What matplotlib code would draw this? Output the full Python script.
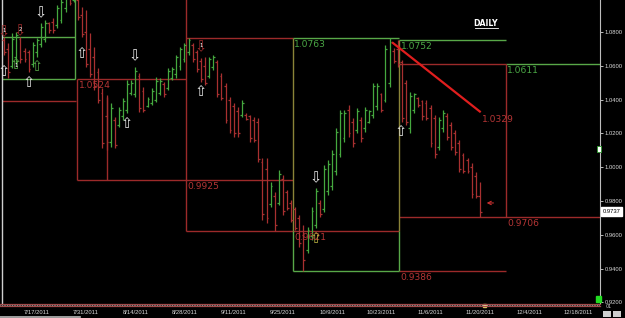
import numpy as np
import pandas as pd
import matplotlib
matplotlib.use('Agg')
import matplotlib.pyplot as plt
from matplotlib.lines import Line2D
from matplotlib.patches import Rectangle

# daily bars (Sun-Fri sessions), last bar 11/20/2011
opens = [1.0750, 1.0700, 1.0600, 1.0650, 1.0760, 1.0690, 1.0680, 1.0610, 1.0680, 1.0730,
         1.0760, 1.0850, 1.0860, 1.0840, 1.0870, 1.0940, 1.1030, 1.0990, 1.0990, 1.0900,
         1.0800, 1.0700, 1.0650, 1.0560, 1.0440, 1.0300, 1.0150, 1.0280, 1.0250, 1.0300,
         1.0340, 1.0440, 1.0430, 1.0540, 1.0450, 1.0360, 1.0380, 1.0400, 1.0440, 1.0490,
         1.0470, 1.0530, 1.0550, 1.0600, 1.0640, 1.0680, 1.0720, 1.0680, 1.0630, 1.0600,
         1.0540, 1.0590, 1.0620, 1.0540, 1.0480, 1.0400, 1.0360, 1.0330, 1.0310, 1.0310,
         1.0300, 1.0280, 1.0270, 1.0030, 0.9990, 0.9780, 0.9830, 0.9790, 0.9930, 0.9850,
         0.9790, 0.9750, 0.9700, 0.9600, 0.9510, 0.9590, 0.9660, 0.9790, 0.9750, 0.9860,
         0.9890, 0.9980, 1.0080, 1.0170, 1.0340, 1.0270, 1.0220, 1.0280, 1.0230, 1.0270,
         1.0310, 1.0360, 1.0430, 1.0400, 1.0500, 1.0690, 1.0700, 1.0620, 1.0500, 1.0230,
         1.0340, 1.0410, 1.0390, 1.0380, 1.0350, 1.0290, 1.0120, 1.0230, 1.0300, 1.0250,
         1.0200, 1.0140, 1.0070, 1.0040, 1.0000, 0.9950, 0.9830]
highs = [1.0770, 1.0735, 1.0794, 1.0800, 1.0770, 1.0705, 1.0693, 1.0740, 1.0764, 1.0853,
         1.0871, 1.0859, 1.0882, 1.0959, 1.1007, 1.1036, 1.1048, 1.1060, 1.1001, 1.0948,
         1.0930, 1.0794, 1.0711, 1.0587, 1.0468, 1.0427, 1.0380, 1.0297, 1.0356, 1.0409,
         1.0516, 1.0516, 1.0593, 1.0557, 1.0474, 1.0415, 1.0468, 1.0533, 1.0527, 1.0504,
         1.0587, 1.0593, 1.0664, 1.0711, 1.0735, 1.0764, 1.0735, 1.0693, 1.0646, 1.0652,
         1.0652, 1.0664, 1.0634, 1.0557, 1.0498, 1.0415, 1.0380, 1.0356, 1.0397, 1.0320,
         1.0309, 1.0297, 1.0291, 1.0054, 1.0054, 0.9912, 0.9853, 0.9983, 0.9954, 0.9865,
         0.9805, 0.9764, 0.9717, 0.9658, 0.9646, 0.9764, 0.9877, 0.9805, 1.0012, 1.0042,
         1.0101, 1.0232, 1.0338, 1.0338, 1.0368, 1.0291, 1.0350, 1.0297, 1.0356, 1.0338,
         1.0498, 1.0498, 1.0439, 1.0723, 1.0763, 1.0705, 1.0752, 1.0634, 1.0516, 1.0445,
         1.0439, 1.0415, 1.0397, 1.0397, 1.0368, 1.0309, 1.0297, 1.0338, 1.0320, 1.0267,
         1.0220, 1.0161, 1.0084, 1.0054, 1.0024, 0.9971, 0.9912]
lows = [1.0664, 1.0527, 1.0587, 1.0616, 1.0616, 1.0622, 1.0563, 1.0593, 1.0652, 1.0711,
        1.0740, 1.0794, 1.0794, 1.0823, 1.0853, 1.0918, 1.0959, 1.0977, 1.0871, 1.0770,
        1.0593, 1.0533, 1.0456, 1.0380, 1.0113, 1.0101, 1.0119, 1.0113, 1.0238, 1.0279,
        1.0320, 1.0427, 1.0415, 1.0326, 1.0326, 1.0356, 1.0368, 1.0385, 1.0427, 1.0415,
        1.0456, 1.0516, 1.0527, 1.0575, 1.0622, 1.0664, 1.0622, 1.0563, 1.0504, 1.0486,
        1.0527, 1.0575, 1.0415, 1.0397, 1.0261, 1.0202, 1.0178, 1.0178, 1.0297, 1.0279,
        1.0149, 1.0149, 1.0030, 0.9687, 0.9669, 0.9764, 0.9625, 0.9776, 0.9717, 0.9746,
        0.9675, 0.9628, 0.9527, 0.9386, 0.9492, 0.9569, 0.9640, 0.9705, 0.9735, 0.9835,
        0.9865, 0.9954, 1.0060, 1.0149, 1.0178, 1.0119, 1.0202, 1.0149, 1.0208, 1.0261,
        1.0291, 1.0338, 1.0326, 1.0385, 1.0474, 1.0616, 1.0593, 1.0267, 1.0249, 1.0202,
        1.0320, 1.0356, 1.0279, 1.0279, 1.0119, 1.0054, 1.0101, 1.0208, 1.0161, 1.0101,
        1.0072, 0.9971, 0.9965, 0.9965, 0.9817, 0.9817, 0.9706]
closes = [1.0680, 1.0560, 1.0760, 1.0780, 1.0640, 1.0640, 1.0580, 1.0720, 1.0750, 1.0830,
          1.0850, 1.0810, 1.0810, 1.0940, 1.0980, 1.1010, 1.0970, 1.1040, 1.0890, 1.0790,
          1.0610, 1.0550, 1.0480, 1.0400, 1.0140, 1.0150, 1.0350, 1.0130, 1.0340, 1.0390,
          1.0490, 1.0500, 1.0570, 1.0350, 1.0340, 1.0405, 1.0450, 1.0510, 1.0510, 1.0430,
          1.0570, 1.0580, 1.0650, 1.0700, 1.0720, 1.0750, 1.0640, 1.0580, 1.0520, 1.0500,
          1.0640, 1.0650, 1.0430, 1.0410, 1.0280, 1.0220, 1.0200, 1.0200, 1.0380, 1.0285,
          1.0170, 1.0160, 1.0050, 0.9720, 0.9700, 0.9890, 0.9660, 0.9960, 0.9740, 0.9760,
          0.9690, 0.9640, 0.9550, 0.9450, 0.9630, 0.9740, 0.9860, 0.9720, 0.9990, 1.0020,
          1.0080, 1.0210, 1.0320, 1.0320, 1.0200, 1.0140, 1.0330, 1.0170, 1.0340, 1.0330,
          1.0480, 1.0480, 1.0340, 1.0700, 1.0740, 1.0630, 1.0610, 1.0290, 1.0270, 1.0420,
          1.0430, 1.0365, 1.0300, 1.0290, 1.0140, 1.0080, 1.0280, 1.0320, 1.0180, 1.0120,
          1.0090, 0.9990, 0.9980, 0.9975, 0.9840, 0.9830, 0.9737]

tick_dates = ['2011-07-17', '2011-07-31', '2011-08-14', '2011-08-28', '2011-09-11', '2011-09-25',
              '2011-10-09', '2011-10-23', '2011-11-06', '2011-11-20', '2011-12-04', '2011-12-18']
price_ticks = [0.92, 0.94, 0.96, 0.98, 1.00, 1.02, 1.04, 1.06, 1.08]

# drawing tools: horizontal levels (price, from bar, to bar, colour key)
h_levels = [(1.0772, -0.5, 17.3, 'g'), (1.0524, -0.5, 17.3, 'g'), (1.0391, -0.5, 17.5, 'r'),
            (1.0524, 17.8, 44.4, 'r'), (0.9925, 17.8, 70.4, 'r'), (1.0763, 44.4, 70.4, 'r'),
            (1.0763, 70.4, 96.3, 'g'), (0.9621, 44.4, 96.3, 'r'), (0.9386, 70.4, 96.3, 'g'),
            (0.9386, 96.3, 122.3, 'r'), (1.0752, 96.3, 122.3, 'g'), (1.0611, 96.3, 122.3, 'r'),
            (1.0611, 122.3, 146, 'g'), (0.9706, 96.3, 146, 'r')]
v_levels = [(17.3, 1.0524, 1.11, 'g'), (17.8, 0.9925, 1.0524, 'r'), (25.1, 0.9925, 1.0415, 'r'),
            (44.4, 0.9621, 1.11, 'r'), (70.4, 0.9621, 1.0763, 'o'), (70.4, 0.9386, 0.9621, 'g'),
            (96.3, 0.9621, 1.0752, 'o'), (96.3, 0.9386, 0.9621, 'g'), (122.3, 0.9706, 1.0611, 'r')]
level_labels = [('1.0524', 17.8, 1.0524, 'r'), ('0.9925', 44.4, 0.9925, 'r'),
                ('1.0763', 70.4, 1.0763, 'g'), ('0.9621', 70.4, 0.9621, 'r'),
                ('1.0752', 96.3, 1.0752, 'g'), ('1.0611', 122.3, 1.0611, 'g'),
                ('0.9706', 122.3, 0.9706, 'r'), ('0.9386', 96.3, 0.9386, 'r')]
trend_x = [94.8, 116.0]
trend_y = [1.0735, 1.0329]

# signal arrows
arrow_x = [0.0, 3.9, 9.0, 0.0, 2.9, 8.0, 6.1, 19.0, 31.9, 30.0, 48.0, 48.0, 76.0, 76.0, 96.8]
arrow_y = [1.0800, 1.0806, 1.0912, 1.0563, 1.0610, 1.0598, 1.0498, 1.0670, 1.0658, 1.0261,
           1.0711, 1.0445, 0.9936, 0.9575, 1.0208]
arrow_dir = ['d', 'd', 'd', 'u', 'u', 'u', 'u', 'u', 'd', 'u', 'd', 'u', 'd', 'u', 'u']
arrow_col = ['r', 'r', 'w', 'w', 'g', 'g', 'w', 'w', 'w', 'w', 'r', 'w', 'w', 'y', 'w']
arrow_num = ['1', '2', '', '', '1', '', '', '', '', '', '1', '', '', '', '']

cols = {'r': '#9c2a2a', 'g': '#58a848', 'o': '#8a8438', 'w': '#e8e8e8', 'y': '#b8b040'}
txtcols = {'r': '#b53535', 'g': '#4aa845'}
bar_green = '#45a83f'
bar_red = '#a83030'
small = ['Liberation Sans', 'DejaVu Sans']

dates = pd.bdate_range(end='2011-11-20', periods=len(closes), freq='C',
                       weekmask='Sun Mon Tue Wed Thu Fri')
calendar = pd.bdate_range(start=dates[0], periods=170, freq='C', weekmask='Sun Mon Tue Wed Thu Fri')
x = np.arange(len(closes))
o = np.array(opens)
c = np.array(closes)
colors = np.where(c >= o, bar_green, bar_red)

fig = plt.figure(figsize=(6.25, 3.18), dpi=100, facecolor='black')
ax = fig.add_axes([2 / 625, 15 / 318, 598 / 625, 303 / 318])
ax.set_facecolor('black')

# level boxes and lines
for lvl, x0, x1, k in h_levels:
    ax.hlines(lvl, x0, x1, color=cols[k], lw=1.0, zorder=1)
for xv, y0, y1, k in v_levels:
    ax.vlines(xv, y0, y1, color=cols[k], lw=1.0, zorder=1)
for txt, xv, lvl, k in level_labels:
    ax.annotate(txt, (xv, lvl), xytext=(1.2, -1.6), textcoords='offset points',
                ha='left', va='top', fontsize=6.6, color=txtcols[k], zorder=4)

# ohlc bars
ax.vlines(x, lows, highs, colors=colors, lw=0.9, zorder=3)
ax.hlines(opens, x - 0.45, x, colors=colors, lw=0.9, zorder=3)
ax.hlines(closes, x, x + 0.45, colors=colors, lw=0.9, zorder=3)

# trendline
ax.plot(trend_x, trend_y, color='#e01e1e', lw=1.6, zorder=5)
ax.annotate('1.0329', (trend_x[1], trend_y[1]), xytext=(1.5, -2.2), textcoords='offset points',
            ha='left', va='top', fontsize=6.6, color=txtcols['r'], zorder=5)
ax.annotate('', xy=(117.0, 0.9788), xytext=(120.0, 0.9788),
            arrowprops=dict(arrowstyle='->', color='#c83030', lw=0.8, mutation_scale=6))

for ax_, ay, d, k, n in zip(arrow_x, arrow_y, arrow_dir, arrow_col, arrow_num):
    ch = '\u21e7' if d == 'u' else '\u21e9'
    ax.text(ax_, ay, ch, color=cols[k], fontsize=10.5, ha='center', va='center', zorder=6,
            family='DejaVu Sans')
    if n:
        ax.text(ax_, ay + (0.0008 if d == 'd' else -0.0008), n, color='white', fontsize=3.8,
                ha='center', va='center', zorder=7)

ax.set_xlim(-0.49, 145.3)
ax.set_ylim(0.9196, 1.0989)

tick_pos = calendar.get_indexer(pd.to_datetime(tick_dates))
ax.set_xticks(tick_pos)
ax.set_xticklabels([f'{d.month}/{d.day}/{d.year}' for d in pd.to_datetime(tick_dates)],
                   family=small, fontsize=4.2, color='#d8d8d8')
ax.tick_params(axis='x', length=0, pad=5)

ax.yaxis.tick_right()
ax.set_yticks(price_ticks)
ax.set_yticklabels([f'{v:.4f}' for v in price_ticks], family=small, fontsize=4.2, color='#d8d8d8')
ax.tick_params(axis='y', length=2, width=0.6, color='#d8d8d8', pad=1.5)

for s in ['top', 'bottom']:
    ax.spines[s].set_visible(False)
ax.spines['left'].set_color('#cfcfcf')
ax.spines['right'].set_color('#bdbdbd')
ax.spines['left'].set_linewidth(1.0)
ax.spines['right'].set_linewidth(0.8)

# last price tag
ax.annotate('0.9737', xy=(1.0, closes[-1]), xycoords=('axes fraction', 'data'),
            xytext=(1.8, 0), textcoords='offset points', ha='left', va='center',
            fontsize=4.2, family=small, color='black', annotation_clip=False,
            bbox=dict(boxstyle='square,pad=0.3', fc='white', ec='white'))

# title
ax.text(0.809, 0.924, 'DAILY', transform=ax.transAxes, color='white', fontsize=5.6,
        fontweight='bold', ha='center', va='center')
ax.plot([0.791, 0.829], [0.906, 0.906], transform=ax.transAxes, color='white', lw=0.6)

# bottom band of the time axis
def fy(px):
    return 1 - px / 318

def fx(px):
    return px / 625

fig.add_artist(Line2D([0, fx(600)], [fy(303.5), fy(303.5)], color='#a04a4a', lw=0.9))
fig.add_artist(Line2D([0, fx(600)], [fy(306.2), fy(306.2)], color='#a04a4a', lw=0.9))
fig.add_artist(Line2D([0, fx(600)], [fy(304.9), fy(304.9)], color='#dddddd', lw=0.6,
                      ls=(0, (0.8, 1.2))))
fig.add_artist(Line2D([0, fx(80)], [fy(317), fy(317)], color='#bbbbbb', lw=1.2))
fig.add_artist(Rectangle((fx(483), fy(307)), fx(3), 3 / 318, color='#e0d060'))
fig.add_artist(Rectangle((fx(596), fy(302)), fx(5), 6 / 318, color='#22dd22'))
fig.add_artist(Rectangle((fx(596.5), fy(152)), fx(4), 6 / 318, fc='white', ec='#2c9a2c', lw=0.6))
fig.add_artist(Rectangle((fx(603), fy(316.5)), fx(8), 6 / 318, fc='#cfcfcf', ec='none'))
fig.add_artist(Rectangle((fx(613), fy(316.5)), fx(8), 6 / 318, fc='#cfcfcf', ec='none'))
fig.text(fx(606), fy(306), '01', fontsize=3.5, color='#cccccc', ha='left', va='center')

fig.savefig('out.png', dpi=100, facecolor='black')
